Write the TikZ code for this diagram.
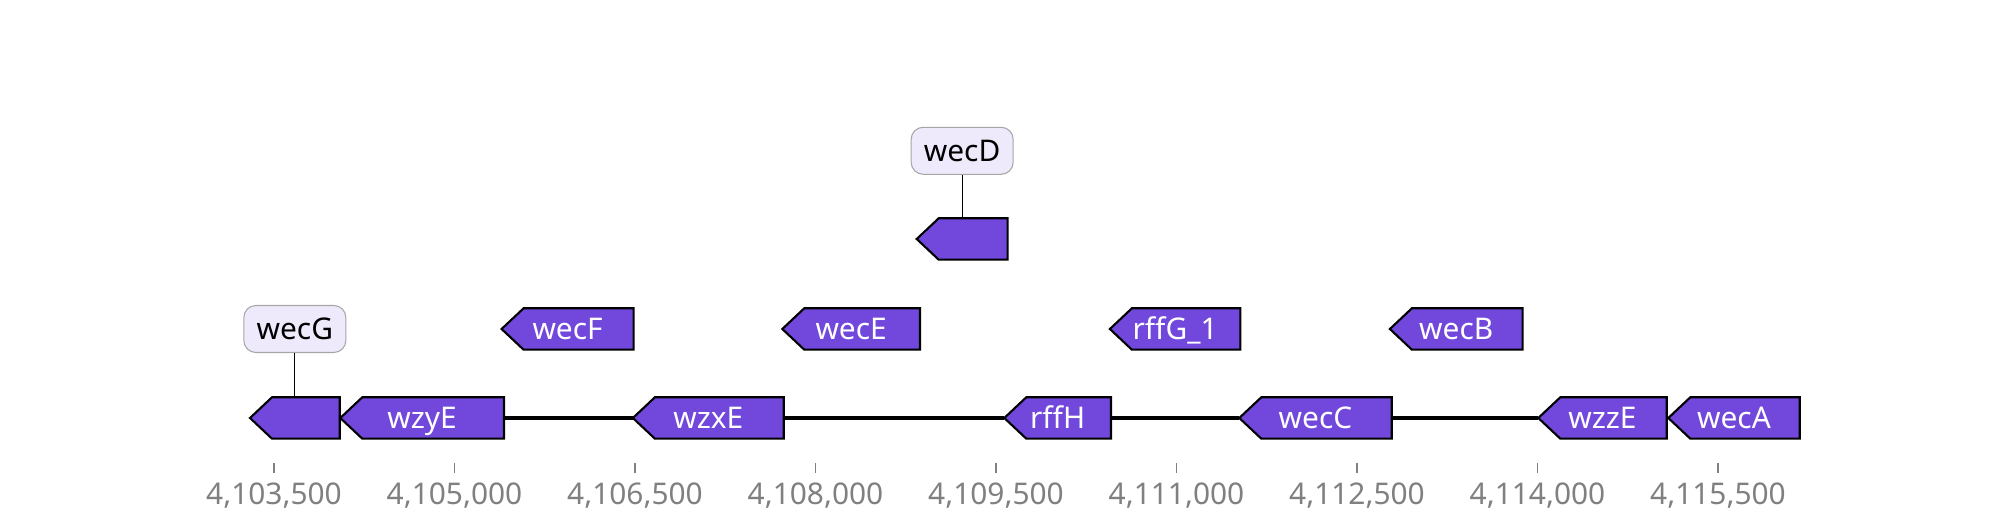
\documentclass[tikz,border=0pt]{standalone}
\usepackage{fontspec}
\setmainfont{Noto Sans}
\usepackage{tikz}
\usetikzlibrary{positioning,calc,backgrounds}

\definecolor{genefill}{HTML}{7247DB}
\definecolor{tagfill}{HTML}{EEEAFB}
\definecolor{tagedge}{HTML}{A6A6A6}
\definecolor{axisgray}{HTML}{808080}

\begin{document}
\begin{tikzpicture}[
    gene/.style={minimum height=0.4cm, inner sep=0pt, text=white,
        text height=6pt, text depth=0pt, font=\fontsize{8.5}{10}\selectfont},
    genebody/.style={draw=black, line width=0.6pt, fill=genefill},
    backbone/.style={line width=1pt},
    tag/.style={draw=tagedge, fill=tagfill, rounded corners=1.2mm, line width=0.3pt,
        minimum width=1.02cm, minimum height=0.47cm, inner sep=0pt,
        text height=6pt, text depth=0pt, font=\fontsize{8.5}{10}\selectfont},
    stem/.style={line width=0.35pt},
    tick/.style={draw=axisgray, line width=0.45pt},
    ticklabel/.style={text=axisgray, anchor=base, inner sep=0pt, font=\fontsize{8.5}{10}\selectfont}
]
    \useasboundingbox (0,0) rectangle (20,5.2);

    % Track 1
    \node[gene, minimum width=0.883cm] (wecG) at (2.9485,1.02) {};
    \node[gene, minimum width=1.623cm] (wzyE) at (4.2215,1.02) {wzyE};
    \node[gene, minimum width=1.494cm] (wzxE) at (7.083,1.02) {wzxE};
    \node[gene, minimum width=1.053cm] (rffH) at (10.5765,1.02) {rffH};
    \node[gene, minimum width=1.51cm] (wecC) at (13.155,1.02) {wecC};
    \node[gene, minimum width=1.27cm] (wzzE) at (16.025,1.02) {wzzE};
    \node[gene, minimum width=1.30cm] (wecA) at (17.34,1.02) {wecA};

    % Track 2
    \node[gene, minimum width=1.306cm] (wecF) at (5.676,1.91) {wecF};
    \node[gene, minimum width=1.363cm] (wecE) at (8.5115,1.91) {wecE};
    \node[gene, minimum width=1.29cm] (rffG) at (11.751,1.91) {rffG\_1};
    \node[gene, minimum width=1.313cm] (wecB) at (14.5625,1.91) {wecB};

    % Track 3
    \node[gene, minimum width=0.895cm] (wecD) at (9.6215,2.81) {};

    % gene arrows, behind the labels
    \begin{scope}[on background layer]
        \foreach \g in {wecG,wzyE,wzxE,rffH,wecC,wzzE,wecA,wecF,wecE,rffG,wecB,wecD}
            \draw[genebody] (\g.west) -- ($(\g.north west)+(0.22,0)$) -- (\g.north east)
                -- (\g.south east) -- ($(\g.south west)+(0.22,0)$) -- cycle;
    \end{scope}

    % backbone
    \draw[backbone] (wecG.east) -- (wzyE.west);
    \draw[backbone] (wzyE.east) -- (wzxE.west);
    \draw[backbone] (wzxE.east) -- (rffH.west);
    \draw[backbone] (rffH.east) -- (wecC.west);
    \draw[backbone] (wecC.east) -- (wzzE.west);
    \draw[backbone] (wzzE.east) -- (wecA.west);

    % callouts
    \node[tag] (tagG) at (2.9485,1.91) {wecG};
    \node[tag] (tagD) at (9.6215,3.692) {wecD};
    \draw[stem] (tagG.south) -- (wecG.north);
    \draw[stem] (tagD.south) -- (wecD.north);

    % axis
    \foreach \k/\lab in {0/{4,103,500},1/{4,105,000},2/{4,106,500},3/{4,108,000},
            4/{4,109,500},5/{4,111,000},6/{4,112,500},7/{4,114,000},8/{4,115,500}} {
        \coordinate (t\k) at (2.74+1.805*\k,0.567);
        \draw[tick] (t\k) -- ++(0,-0.094);
        \node[ticklabel] (l\k) at (2.74+1.805*\k,0.157) {\lab};
    }
\end{tikzpicture}
\end{document}
